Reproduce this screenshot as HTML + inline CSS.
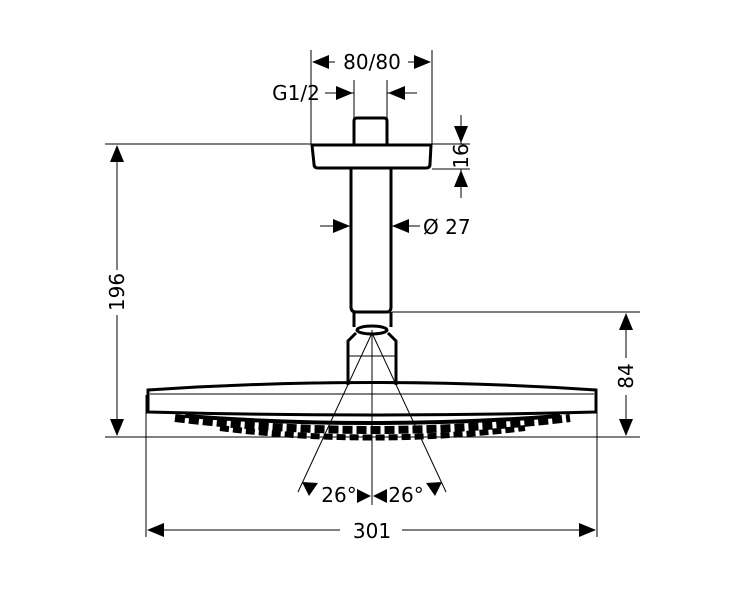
<!DOCTYPE html>
<html><head><meta charset="utf-8"><style>html,body{margin:0;padding:0;background:#fff}svg{display:block}</style></head>
<body>
<svg width="737" height="600" viewBox="0 0 737 600" xmlns="http://www.w3.org/2000/svg" font-family="'DejaVu Sans','Liberation Sans',sans-serif" font-size="19" fill="#000">
<g stroke="#000" fill="none">
<line x1="105" y1="144" x2="311" y2="144" stroke-width="1"/>
<line x1="105" y1="437" x2="640" y2="437" stroke-width="1"/>
<line x1="392" y1="312" x2="640" y2="312" stroke-width="1"/>
<line x1="432" y1="144" x2="470" y2="144" stroke-width="1"/>
<line x1="432" y1="169" x2="470" y2="169" stroke-width="1"/>
<line x1="311" y1="50" x2="311" y2="144" stroke-width="1"/>
<line x1="432" y1="50" x2="432" y2="144" stroke-width="1"/>
<line x1="354" y1="80" x2="354" y2="118" stroke-width="1"/>
<line x1="387" y1="80" x2="387" y2="118" stroke-width="1"/>
<line x1="146" y1="395" x2="146" y2="537" stroke-width="1"/>
<line x1="597" y1="395" x2="597" y2="537" stroke-width="1"/>
<path d="M354 144 V121 q0 -3 3 -3 h27 q3 0 3 3 V144" stroke-width="3"/>
<path d="M312 145 H431 L430 164 q0 4 -4 4 H318 q-4 0 -4 -4 Z" stroke-width="3"/>
<line x1="351" y1="169" x2="351" y2="308" stroke-width="3"/>
<line x1="391" y1="169" x2="391" y2="308" stroke-width="3"/>
<path d="M351 307 q0 5 5 5 h31 q4 0 4 -5" stroke-width="3"/>
<path d="M354 312 V327 M391 312 V327" stroke-width="3"/>
<ellipse cx="372" cy="330" rx="15" ry="4" stroke-width="3"/>
<path d="M356 333 l-8 8 V385 M388 333 l8 8 V385" stroke-width="3"/>
<line x1="348" y1="356" x2="396" y2="356" stroke-width="1"/>
<path d="M148 390 Q372 375 596 390 V412 Q372 418 148 412 Z" stroke-width="3"/>
<line x1="150" y1="394" x2="594" y2="394" stroke-width="1"/>
<path d="M175 418 Q372 442 570 418" stroke-width="8" stroke-dasharray="10 4"/>
<path d="M185 416 Q372 430 560 416" stroke-width="4"/>
<path d="M220 428 Q372 447 525 428" stroke-width="6" stroke-dasharray="9 4"/>
<line x1="372" y1="330" x2="372" y2="505" stroke-width="1"/>
<line x1="372" y1="333" x2="298" y2="492" stroke-width="1"/>
<line x1="372" y1="333" x2="446" y2="492" stroke-width="1"/>
<line x1="117" y1="146" x2="117" y2="270" stroke-width="1"/>
<line x1="117" y1="315" x2="117" y2="435" stroke-width="1"/>
<line x1="626" y1="314" x2="626" y2="358" stroke-width="1"/>
<line x1="626" y1="395" x2="626" y2="435" stroke-width="1"/>
<line x1="148" y1="530" x2="340" y2="530" stroke-width="1"/>
<line x1="402" y1="530" x2="595" y2="530" stroke-width="1"/>
<line x1="313" y1="62" x2="335" y2="62" stroke-width="1"/>
<line x1="408" y1="62" x2="430" y2="62" stroke-width="1"/>
<line x1="325" y1="93" x2="354" y2="93" stroke-width="1"/>
<line x1="387" y1="93" x2="417" y2="93" stroke-width="1"/>
<line x1="461" y1="115" x2="461" y2="144" stroke-width="1"/>
<line x1="461" y1="169" x2="461" y2="198" stroke-width="1"/>
<line x1="320" y1="226" x2="351" y2="226" stroke-width="1"/>
<line x1="391" y1="226" x2="420" y2="226" stroke-width="1"/>
</g>
<g fill="#000">
<polygon points="117,145 110,162 124,162"/>
<polygon points="117,436 110,419 124,419"/>
<polygon points="626,313 619,330 633,330"/>
<polygon points="626,436 619,419 633,419"/>
<polygon points="147,530 164,523 164,537"/>
<polygon points="596,530 579,523 579,537"/>
<polygon points="312,62 329,55 329,69"/>
<polygon points="431,62 414,55 414,69"/>
<polygon points="353,93 336,86 336,100"/>
<polygon points="388,93 405,86 405,100"/>
<polygon points="461,143 454,126 468,126"/>
<polygon points="461,170 454,187 468,187"/>
<polygon points="350,226 333,219 333,233"/>
<polygon points="392,226 409,219 409,233"/>
<polygon points="371,496 357,489 357,503"/>
<polygon points="373,496 387,489 387,503"/>
<polygon points="302,482 318,483 309,496"/>
<polygon points="442,482 426,483 435,496"/>
</g>
<text x="372" y="69" text-anchor="middle" font-size="20">80/80</text>
<text x="296" y="100" text-anchor="middle" font-size="20">G1/2</text>
<text x="423" y="234" font-size="20">Ø 27</text>
<text x="372" y="538" text-anchor="middle" font-size="20">301</text>
<text x="339" y="502" text-anchor="middle" font-size="20">26°</text>
<text x="406" y="502" text-anchor="middle" font-size="20">26°</text>
<text transform="translate(124,292) rotate(-90)" text-anchor="middle" font-size="20">196</text>
<text transform="translate(633,376) rotate(-90)" text-anchor="middle" font-size="20">84</text>
<text transform="translate(468,156) rotate(-90)" text-anchor="middle" font-size="20">16</text>
</svg>
</body></html>
